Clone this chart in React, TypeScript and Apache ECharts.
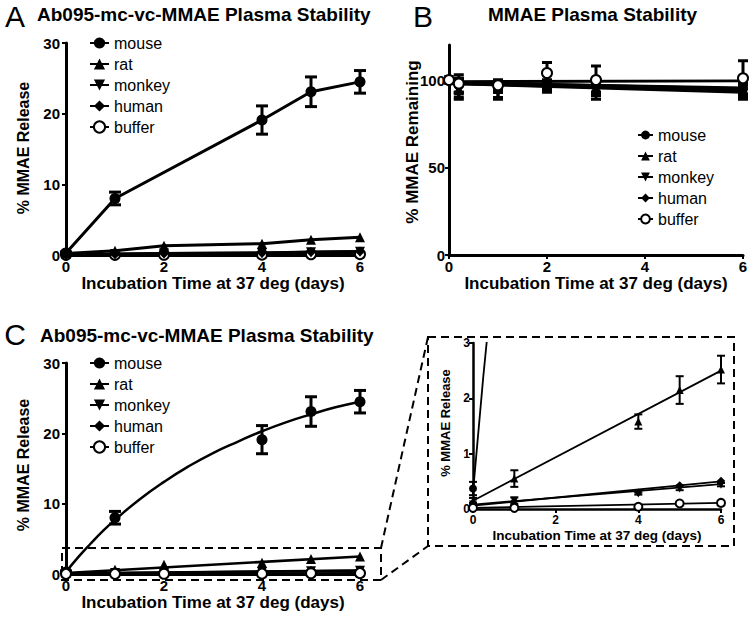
import React, { useEffect, useRef } from 'react';
import * as echarts from 'echarts';

// ---------- data ----------
const species = ['mouse', 'rat', 'monkey', 'human', 'buffer'];

// Panels A & C: % MMAE release
const days = [0, 1, 2, 4, 5, 6];
const mouseDays = [0, 1, 4, 5, 6];
const mouseRelease = [0.3, 8.0, 19.1, 23.1, 24.5];
const mouseReleaseErr = [0.15, 0.9, 2.0, 2.1, 1.6];
const ratRelease = [0.2, 0.6, 1.3, 1.6, 2.15, 2.5];
const monkeyRelease = [0.1, 0.15, 0.2, 0.28, 0.4, 0.45];
const humanRelease = [0.05, 0.12, 0.2, 0.3, 0.42, 0.5];
const bufferRelease = [0.02, 0.02, 0.03, 0.05, 0.1, 0.12];

// Panel C fitted curves
const mouseFitDays = [0, 0.25, 0.5, 0.75, 1, 1.5, 2, 2.5, 3, 3.5, 4, 4.5, 5, 5.5, 6];
const mouseFit = [0.3, 2.4, 4.3, 6.1, 7.7, 10.6, 13.1, 15.3, 17.2, 18.8, 20.3, 21.6, 22.7, 23.7, 24.5];
const fitDays = [0, 6];
const ratFit = [0.15, 2.5];
const monkeyFit = [0.08, 0.45];
const humanFit = [0.06, 0.5];
const bufferFit = [0.02, 0.11];

// Inset (zoom of panel C)
const insetDays = [0, 1, 4, 5, 6];
const insetMouseDays = [0];
const insetMouse = [0.37];
const insetMouseErr = [0.12];
const insetRat = [0.15, 0.55, 1.58, 2.15, 2.52];
const insetRatErr = [0.05, 0.15, 0.13, 0.25, 0.25];
const insetMonkey = [0.08, 0.15, 0.28, 0.37, 0.44];
const insetMonkeyErr = [0.03, 0.06, 0.02, 0.03, 0.03];
const insetHuman = [0.06, 0.14, 0.3, 0.43, 0.51];
const insetBuffer = [0.02, 0.02, 0.04, 0.1, 0.11];

// Panel B: % MMAE remaining
const bDays = [0, 0.2, 1, 2, 3, 6];
const mouseRemain = [100, 97, 96, 98, 97, 95];
const ratRemain = [100, 95, 95, 96, 96, 94];
const monkeyRemain = [100, 95, 94, 97, 94, 93];
const humanRemain = [100, 96, 96, 97, 96, 95];
const bufferRemain = [100, 98, 97, 104, 100, 101];
const mouseRemainErr = [0, 4, 3, 2, 4, 3];
const ratRemainErr = [0, 6, 5, 3, 5, 4];
const monkeyRemainErr = [0, 5, 5, 3, 5, 4];
const humanRemainErr = [0, 4, 3, 2, 3, 3];
const bufferRemainErr = [0, 5, 3, 6, 8, 10];
const mouseRemainFit = [98.5, 95];
const ratRemainFit = [98, 94];
const monkeyRemainFit = [98, 93];
const humanRemainFit = [98.5, 95.5];
const bufferRemainFit = [99, 99.5];

// axis text
const xTitle = 'Incubation Time at 37 deg (days)';
const releaseTitle = '% MMAE Release';
const remainTitle = '% MMAE Remaining';

// ---------- helpers ----------
const FONT = '"Liberation Sans", Arial, sans-serif';
const downTri = 'path://M0,0L10,0L5,9Z';
const symbolOf: Record<string, string> = {
  mouse: 'circle',
  rat: 'triangle',
  monkey: downTri,
  human: 'diamond',
  buffer: 'emptyCircle',
};

const pairs = (xs: number[], ys: number[]) => xs.map((x, i) => [x, ys[i]]);
const errData = (xs: number[], ys: number[], es: number[]) =>
  xs.map((x, i) => [x, ys[i] - es[i], ys[i] + es[i]]);

function errSeries(idx: number, data: number[][], cap: number, lw: number) {
  return {
    type: 'custom',
    xAxisIndex: idx,
    yAxisIndex: idx,
    z: 4,
    encode: { x: 0, y: [1, 2] },
    data,
    renderItem: (params: any, api: any) => {
      const x = api.value(0);
      const a = api.coord([x, api.value(2)]);
      const b = api.coord([x, api.value(1)]);
      const style = { stroke: '#000', lineWidth: lw };
      return {
        type: 'group',
        children: [
          { type: 'line', shape: { x1: a[0], y1: a[1], x2: b[0], y2: b[1] }, style },
          { type: 'line', shape: { x1: a[0] - cap, y1: a[1], x2: a[0] + cap, y2: a[1] }, style },
          { type: 'line', shape: { x1: b[0] - cap, y1: b[1], x2: b[0] + cap, y2: b[1] }, style },
        ],
      };
    },
  };
}

function markerStyle(name: string) {
  return name === 'buffer'
    ? { color: '#000', borderColor: '#000', borderWidth: 2.5, opacity: 1 }
    : { color: '#000', opacity: 1 };
}

function lineSeries(idx: number, name: string | undefined, data: number[][], opts: any = {}) {
  return {
    type: 'line',
    name,
    xAxisIndex: idx,
    yAxisIndex: idx,
    data,
    symbol: name ? symbolOf[name] : 'none',
    symbolSize: 11,
    showSymbol: !!name,
    lineStyle: { color: '#000', width: 3 },
    itemStyle: name ? markerStyle(name) : { color: '#000' },
    z: 3,
    ...opts,
  };
}

function scatterSeries(idx: number, name: string, data: number[][], size: number) {
  return {
    type: 'scatter',
    xAxisIndex: idx,
    yAxisIndex: idx,
    data,
    symbol: symbolOf[name],
    symbolSize: size,
    itemStyle: markerStyle(name),
    z: 5,
  };
}

function xAxis(idx: number, big: boolean) {
  return {
    type: 'value',
    gridIndex: idx,
    min: 0,
    max: 6,
    interval: 2,
    name: xTitle,
    nameLocation: 'middle',
    nameGap: 19,
    nameTextStyle: { fontFamily: FONT, fontWeight: 'bold', fontSize: big ? 17 : 13.5, color: '#000' },
    axisLine: { lineStyle: { color: '#000', width: big ? 3 : 2.5 } },
    axisTick: { length: 4, lineStyle: { color: '#000', width: 2 } },
    axisLabel: { color: '#000', fontFamily: FONT, fontWeight: 'bold', fontSize: big ? 15 : 12, margin: big ? 4 : 5 },
    splitLine: { show: false },
  };
}

function yAxis(idx: number, max: number, interval: number, big: boolean, margin: number) {
  return {
    type: 'value',
    gridIndex: idx,
    min: 0,
    max,
    interval,
    axisLine: { show: true, lineStyle: { color: '#000', width: big ? 3 : 2.5 } },
    axisTick: { show: true, length: 4, lineStyle: { color: '#000', width: 2 } },
    axisLabel: {
      color: '#000',
      fontFamily: FONT,
      fontWeight: 'bold',
      fontSize: big ? 15 : 12,
      margin,
      showMaxLabel: max % interval === 0,
    },
    splitLine: { show: false },
  };
}

function legend(left: number, top: number, itemWidth: number, itemHeight: number) {
  return {
    orient: 'vertical',
    left,
    top,
    padding: 0,
    itemGap: 5,
    itemWidth,
    itemHeight,
    data: species,
    selectedMode: false,
    textStyle: { fontFamily: FONT, fontSize: 16, color: '#000', padding: [0, 0, 0, 0] },
  };
}

function textEl(text: string, x: number, y: number, font: string, extra: any = {}) {
  return {
    type: 'text',
    x,
    y,
    ...extra,
    style: { text, font, fill: '#000', align: 'center', verticalAlign: 'middle' },
  };
}

function buildOption() {
  const series: any[] = [];
  const releaseByName: Record<string, number[]> = {
    rat: ratRelease,
    monkey: monkeyRelease,
    human: humanRelease,
    buffer: bufferRelease,
  };
  const fitByName: Record<string, number[]> = {
    rat: ratFit,
    monkey: monkeyFit,
    human: humanFit,
    buffer: bufferFit,
  };

  // ---- Panel A (connected points) ----
  species.slice().reverse().forEach((n) => {
    if (n === 'mouse') {
      series.push(lineSeries(0, 'mouse', pairs(mouseDays, mouseRelease)));
    } else {
      series.push(lineSeries(0, n, pairs(days, releaseByName[n]), { symbolSize: 10 }));
    }
  });
  series.push(errSeries(0, errData(mouseDays, mouseRelease, mouseReleaseErr), 6, 3));

  // ---- Panel B ----
  const remainByName: Record<string, number[][]> = {
    mouse: [mouseRemain, mouseRemainErr, mouseRemainFit],
    rat: [ratRemain, ratRemainErr, ratRemainFit],
    monkey: [monkeyRemain, monkeyRemainErr, monkeyRemainFit],
    human: [humanRemain, humanRemainErr, humanRemainFit],
    buffer: [bufferRemain, bufferRemainErr, bufferRemainFit],
  };
  species.forEach((n) => {
    const [v, e, f] = remainByName[n];
    series.push(lineSeries(1, undefined, pairs(fitDays, f), { lineStyle: { color: '#000', width: 3 } }));
    series.push(errSeries(1, errData(bDays, v, e), 5, 3));
    series.push(scatterSeries(1, n, pairs(bDays, v), 10));
  });

  // ---- Panel C (fits) ----
  series.push(lineSeries(2, undefined, pairs(mouseFitDays, mouseFit), { smooth: true, lineStyle: { color: '#000', width: 2.5 } }));
  series.push(errSeries(2, errData(mouseDays, mouseRelease, mouseReleaseErr), 6, 3));
  series.push(scatterSeries(2, 'mouse', pairs(mouseDays, mouseRelease), 11));
  ['rat', 'monkey', 'human', 'buffer'].forEach((n) => {
    series.push(lineSeries(2, undefined, pairs(fitDays, fitByName[n]), { lineStyle: { color: '#000', width: 2.5 } }));
    series.push(scatterSeries(2, n, pairs(days, releaseByName[n]), 10));
  });

  // ---- Inset ----
  series.push(lineSeries(3, undefined, pairs(mouseFitDays, mouseFit), { lineStyle: { color: '#000', width: 1.8 } }));
  ['rat', 'monkey', 'human', 'buffer'].forEach((n) => {
    series.push(lineSeries(3, undefined, pairs(fitDays, fitByName[n]), { lineStyle: { color: '#000', width: 1.8 } }));
  });
  series.push(errSeries(3, errData(insetMouseDays, insetMouse, insetMouseErr), 4, 2));
  series.push(scatterSeries(3, 'mouse', pairs(insetMouseDays, insetMouse), 8));
  series.push(errSeries(3, errData(insetDays, insetRat, insetRatErr), 4, 2));
  series.push(scatterSeries(3, 'rat', pairs(insetDays, insetRat), 8));
  series.push(errSeries(3, errData(insetDays, insetMonkey, insetMonkeyErr), 4, 2));
  series.push(scatterSeries(3, 'monkey', pairs(insetDays, insetMonkey), 8));
  series.push(scatterSeries(3, 'human', pairs(insetDays, insetHuman), 8));
  series.push(scatterSeries(3, 'buffer', pairs(insetDays, insetBuffer), 8));

  const dash = { stroke: '#000', lineWidth: 2, lineDash: [8, 5], fill: 'none' };

  return {
    animation: false,
    backgroundColor: '#fff',
    title: [
      { text: 'Ab095-mc-vc-MMAE Plasma Stability', left: 37, top: 5, padding: 0, textStyle: { fontFamily: FONT, fontWeight: 'bold', fontSize: 19, color: '#000' } },
      { text: 'MMAE Plasma Stability', left: 488, top: 5, padding: 0, textStyle: { fontFamily: FONT, fontWeight: 'bold', fontSize: 19, color: '#000' } },
      { text: 'Ab095-mc-vc-MMAE Plasma Stability', left: 40, top: 326, padding: 0, textStyle: { fontFamily: FONT, fontWeight: 'bold', fontSize: 19, color: '#000' } },
    ],
    legend: [legend(89, 35, 19, 14), legend(637, 127, 15, 11), legend(89, 355, 19, 14)],
    grid: [
      { left: 66, top: 43, width: 294, height: 212, outerBoundsMode: 'none' },
      { left: 449, top: 45, width: 294, height: 210, outerBoundsMode: 'none' },
      { left: 66, top: 363, width: 294, height: 211, outerBoundsMode: 'none' },
      { left: 473, top: 343, width: 248, height: 166, outerBoundsMode: 'none' },
    ],
    xAxis: [xAxis(0, true), xAxis(1, true), xAxis(2, true), xAxis(3, false)],
    yAxis: [
      yAxis(0, 30, 10, true, 6),
      yAxis(1, 120, 50, true, 4),
      yAxis(2, 30, 10, true, 6),
      yAxis(3, 3, 1, false, 3),
    ],
    graphic: [
      textEl('A', 15, 16, `30px ${FONT}`),
      textEl('B', 423, 16, `30px ${FONT}`),
      textEl('C', 15, 334, `30px ${FONT}`),
      textEl(releaseTitle, 23, 148, `bold 16px ${FONT}`, { rotation: Math.PI / 2 }),
      textEl(remainTitle, 412, 142, `bold 17px ${FONT}`, { rotation: Math.PI / 2 }),
      textEl(releaseTitle, 23, 465, `bold 16px ${FONT}`, { rotation: Math.PI / 2 }),
      textEl(releaseTitle, 445, 423, `bold 13px ${FONT}`, { rotation: Math.PI / 2 }),
      { type: 'rect', shape: { x: 62, y: 548, width: 319, height: 32 }, style: dash, silent: true },
      { type: 'rect', shape: { x: 428, y: 337, width: 306, height: 209 }, style: dash, silent: true },
      { type: 'line', shape: { x1: 381, y1: 548, x2: 428, y2: 337 }, style: dash, silent: true },
      { type: 'line', shape: { x1: 381, y1: 580, x2: 428, y2: 546 }, style: dash, silent: true },
    ],
    series,
  };
}

export default function App() {
  const ref = useRef<HTMLDivElement>(null);
  useEffect(() => {
    if (!ref.current) return;
    const chart = echarts.init(ref.current, undefined, { renderer: 'svg' });
    chart.setOption(buildOption() as any);
    return () => chart.dispose();
  }, []);
  return (
    <div
      ref={ref}
      style={{ position: 'fixed', left: 0, top: 0, width: 750, height: 620, background: '#fff' }}
    />
  );
}
